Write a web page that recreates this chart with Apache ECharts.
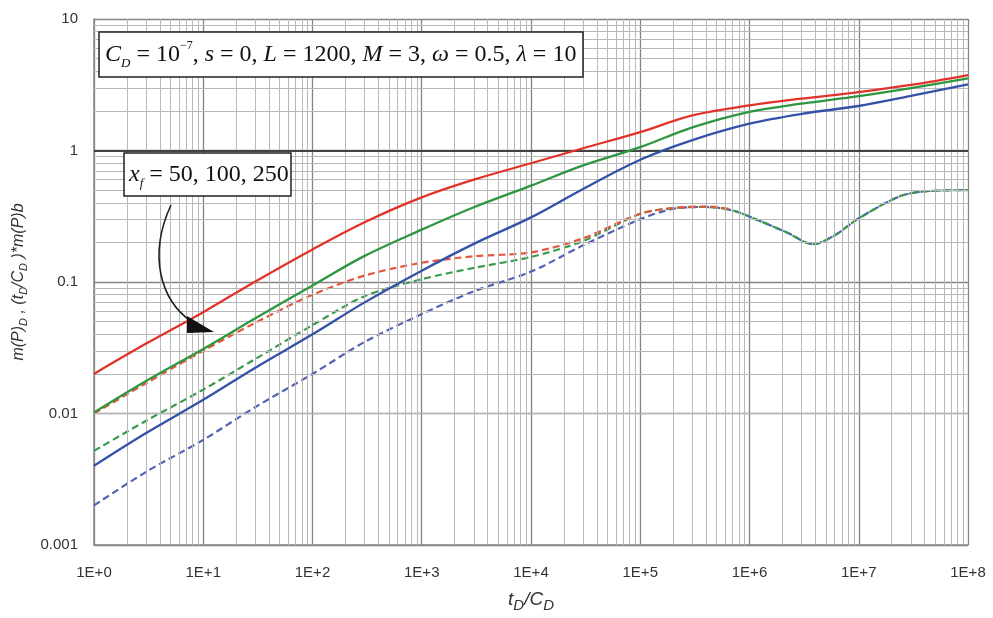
<!DOCTYPE html>
<html>
<head>
<meta charset="utf-8">
<script src="https://cdn.jsdelivr.net/npm/echarts@6/dist/echarts.min.js"></script>
<style>html,body{margin:0;padding:0;background:#fff}#c{width:993px;height:618px}</style>
</head>
<body>
<div id="c"></div>
<script>
// ---- data ----
const tSolid = [1, 3, 10, 30, 100, 300, 1e3, 3e3, 1e4, 3e4, 1e5, 3e5, 1e6, 3e6, 1e7, 3e7, 1e8];
const redSolid   = [0.020, 0.034, 0.059, 0.101, 0.177, 0.285, 0.44, 0.60, 0.80, 1.04, 1.38, 1.85, 2.2, 2.48, 2.78, 3.15, 3.75];
const greenSolid = [0.0102, 0.0177, 0.031, 0.053, 0.094, 0.158, 0.25, 0.37, 0.54, 0.77, 1.06, 1.5, 1.97, 2.27, 2.59, 2.98, 3.54];
const blueSolid  = [0.004, 0.0071, 0.0127, 0.0223, 0.040, 0.07, 0.122, 0.195, 0.31, 0.51, 0.85, 1.2, 1.6, 1.9, 2.18, 2.6, 3.19];

const tDash = [1, 3, 10, 30, 100, 300, 1e3, 3e3, 1e4, 3e4, 1e5, 2e5, 4e5, 7e5, 1.2e6, 2.2e6, 3.8e6, 6e6, 1e7, 2.4e7, 4.2e7, 1e8];
const redDash   = [0.010, 0.017, 0.030, 0.049, 0.080, 0.112, 0.14, 0.157, 0.168, 0.215, 0.33, 0.365, 0.375, 0.357];
const greenDash = [0.0052, 0.0088, 0.0152, 0.026, 0.047, 0.078, 0.105, 0.128, 0.155, 0.205, 0.33, 0.365, 0.372, 0.35, 0.295, 0.238, 0.194, 0.226, 0.305, 0.45, 0.49, 0.50];
const blueDash  = [0.002, 0.0036, 0.0063, 0.0112, 0.020, 0.035, 0.057, 0.085, 0.12, 0.19, 0.30, 0.36, 0.372, 0.35, 0.295, 0.238, 0.194, 0.226, 0.305, 0.45, 0.49, 0.50];

const xTickLabels = ['1E+0', '1E+1', '1E+2', '1E+3', '1E+4', '1E+5', '1E+6', '1E+7', '1E+8'];
const yTickLabels = ['0.001', '0.01', '0.1', '1', '10'];

// ---- helpers ----
function pairs(xs, ys) { return ys.map((y, i) => [xs[i], y]); }
const minorX = [];
for (let k = 0; k < 8; k++) for (let m = 2; m <= 9; m++) minorX.push({ xAxis: m * Math.pow(10, k) });
const minorY = [];
for (let k = -3; k < 1; k++) for (let m = 2; m <= 9; m++) minorY.push({ yAxis: +(m * Math.pow(10, k)).toPrecision(3) });

const RED = '#e2332b', GREEN = '#2f9640', BLUE = '#3352a8';
const RED_D = '#e8553c', GREEN_D = '#3a9a4c', BLUE_D = '#5262b4';
const sans = 'Liberation Sans, Arial, sans-serif';
const serif = 'Liberation Serif, Times New Roman, serif';

function solid(name, ys, color) {
  return { type: 'line', name, data: pairs(tSolid, ys), showSymbol: false, smooth: 0.35,
    lineStyle: { color, width: 2.3 }, itemStyle: { color }, z: 5 };
}
function dashed(name, ys, color) {
  return { type: 'line', name, data: pairs(tDash, ys), showSymbol: false, smooth: 0.3,
    lineStyle: { color, width: 2.2, type: [7, 4] }, itemStyle: { color }, z: 4 };
}

const chart = echarts.init(document.getElementById('c'));
chart.setOption({
  animation: false,
  backgroundColor: '#fff',
  grid: { left: 94, right: 25, top: 19, bottom: 67 },
  xAxis: {
    type: 'log', logBase: 10, min: 1, max: 1e8, splitNumber: 8,
    axisLine: { show: true, lineStyle: { color: '#888', width: 1.5 } },
    axisTick: { show: false },
    axisLabel: { color: '#333', fontFamily: sans, fontSize: 15, margin: 20,
      formatter: v => xTickLabels[Math.round(Math.log10(v))] },
    splitLine: { show: true, lineStyle: { color: '#858585', width: 1.3 } },
    name: '{i|t}{s|D}{i|/C}{s|D}',
    nameLocation: 'middle', nameGap: 42,
    nameTextStyle: { rich: {
      i: { fontFamily: sans, fontStyle: 'italic', fontSize: 19, color: '#333', lineHeight: 26 },
      s: { fontFamily: sans, fontStyle: 'italic', fontSize: 15, color: '#333', verticalAlign: 'bottom' }
    } }
  },
  yAxis: {
    type: 'log', logBase: 10, min: 0.001, max: 10, splitNumber: 4,
    axisLine: { show: true, lineStyle: { color: '#888', width: 1.5 } },
    axisTick: { show: false },
    axisLabel: { color: '#333', fontFamily: sans, fontSize: 15, margin: 16,
      formatter: v => yTickLabels[Math.round(Math.log10(v)) + 3] },
    splitLine: { show: true, lineStyle: { color: '#858585', width: 1.3 } },
    name: '{i|m(P)}{s|D}{i| , (t}{s|D}{i|/C}{s|D}{i| )*m(P)b}',
    nameLocation: 'middle', nameGap: 62, nameRotate: 90,
    nameTextStyle: { rich: {
      i: { fontFamily: sans, fontStyle: 'italic', fontSize: 16, color: '#333', lineHeight: 22 },
      s: { fontFamily: sans, fontStyle: 'italic', fontSize: 11, color: '#333', verticalAlign: 'bottom' }
    } }
  },
  series: [
    { type: 'line', name: 'minorGrid', data: [], silent: true, z: 1,
      markLine: { silent: true, symbol: 'none', label: { show: false }, animation: false,
        lineStyle: { color: '#b8b8b8', width: 1, type: 'solid' },
        data: minorX.concat(minorY) } },
    { type: 'line', name: 'unityLine', data: [], silent: true, z: 2,
      markLine: { silent: true, symbol: 'none', label: { show: false }, animation: false,
        lineStyle: { color: '#444', width: 2.2, type: 'solid' },
        data: [{ yAxis: 1 }] } },
    dashed('blue dashed', blueDash, BLUE_D),
    dashed('green dashed', greenDash, GREEN_D),
    dashed('red dashed', redDash, RED_D),
    solid('blue', blueSolid, BLUE),
    solid('green', greenSolid, GREEN),
    solid('red', redSolid, RED)
  ],
  graphic: [
    { type: 'rect', shape: { x: 99, y: 32, width: 484, height: 45 },
      style: { fill: '#fff', stroke: '#222', lineWidth: 1.5 }, z: 100 },
    { type: 'text', x: 105, y: 55, z: 101,
      style: {
        text: '{i|C}{sb|D}{n| = 10}{sp|−7}{n|, }{i|s}{n| = 0, }{i|L}{n| = 1200, }{i|M}{n| = 3, }{i|ω}{n| = 0.5, }{i|λ}{n| = 10}',
        verticalAlign: 'middle', align: 'left',
        rich: {
          i: { fontFamily: serif, fontStyle: 'italic', fontSize: 24, fill: '#111', lineHeight: 30 },
          n: { fontFamily: serif, fontSize: 24, fill: '#111', lineHeight: 30 },
          sb: { fontFamily: serif, fontStyle: 'italic', fontSize: 13, fill: '#111', verticalAlign: 'bottom' },
          sp: { fontFamily: serif, fontSize: 12, fill: '#111', verticalAlign: 'top' }
        }
      } },
    { type: 'rect', shape: { x: 124, y: 153, width: 167, height: 43 },
      style: { fill: '#fff', stroke: '#222', lineWidth: 1.5 }, z: 100 },
    { type: 'text', x: 129, y: 175, z: 101,
      style: {
        text: '{i|x}{sb|f}{n| = 50, 100, 250}',
        verticalAlign: 'middle', align: 'left',
        rich: {
          i: { fontFamily: serif, fontStyle: 'italic', fontSize: 24, fill: '#111', lineHeight: 30 },
          n: { fontFamily: serif, fontSize: 24, fill: '#111', lineHeight: 30 },
          sb: { fontFamily: serif, fontStyle: 'italic', fontSize: 13, fill: '#111', verticalAlign: 'bottom' }
        }
      } },
    { type: 'bezierCurve', z: 100,
      shape: { x1: 171, y1: 205, cpx1: 148, cpy1: 255, cpx2: 160, cpy2: 300, x2: 192, y2: 322 },
      style: { stroke: '#222', lineWidth: 1.6, fill: null } },
    { type: 'polygon', z: 100,
      shape: { points: [[187, 316], [214, 332], [187, 333]] },
      style: { fill: '#111' } }
  ]
});
</script>
</body>
</html>
